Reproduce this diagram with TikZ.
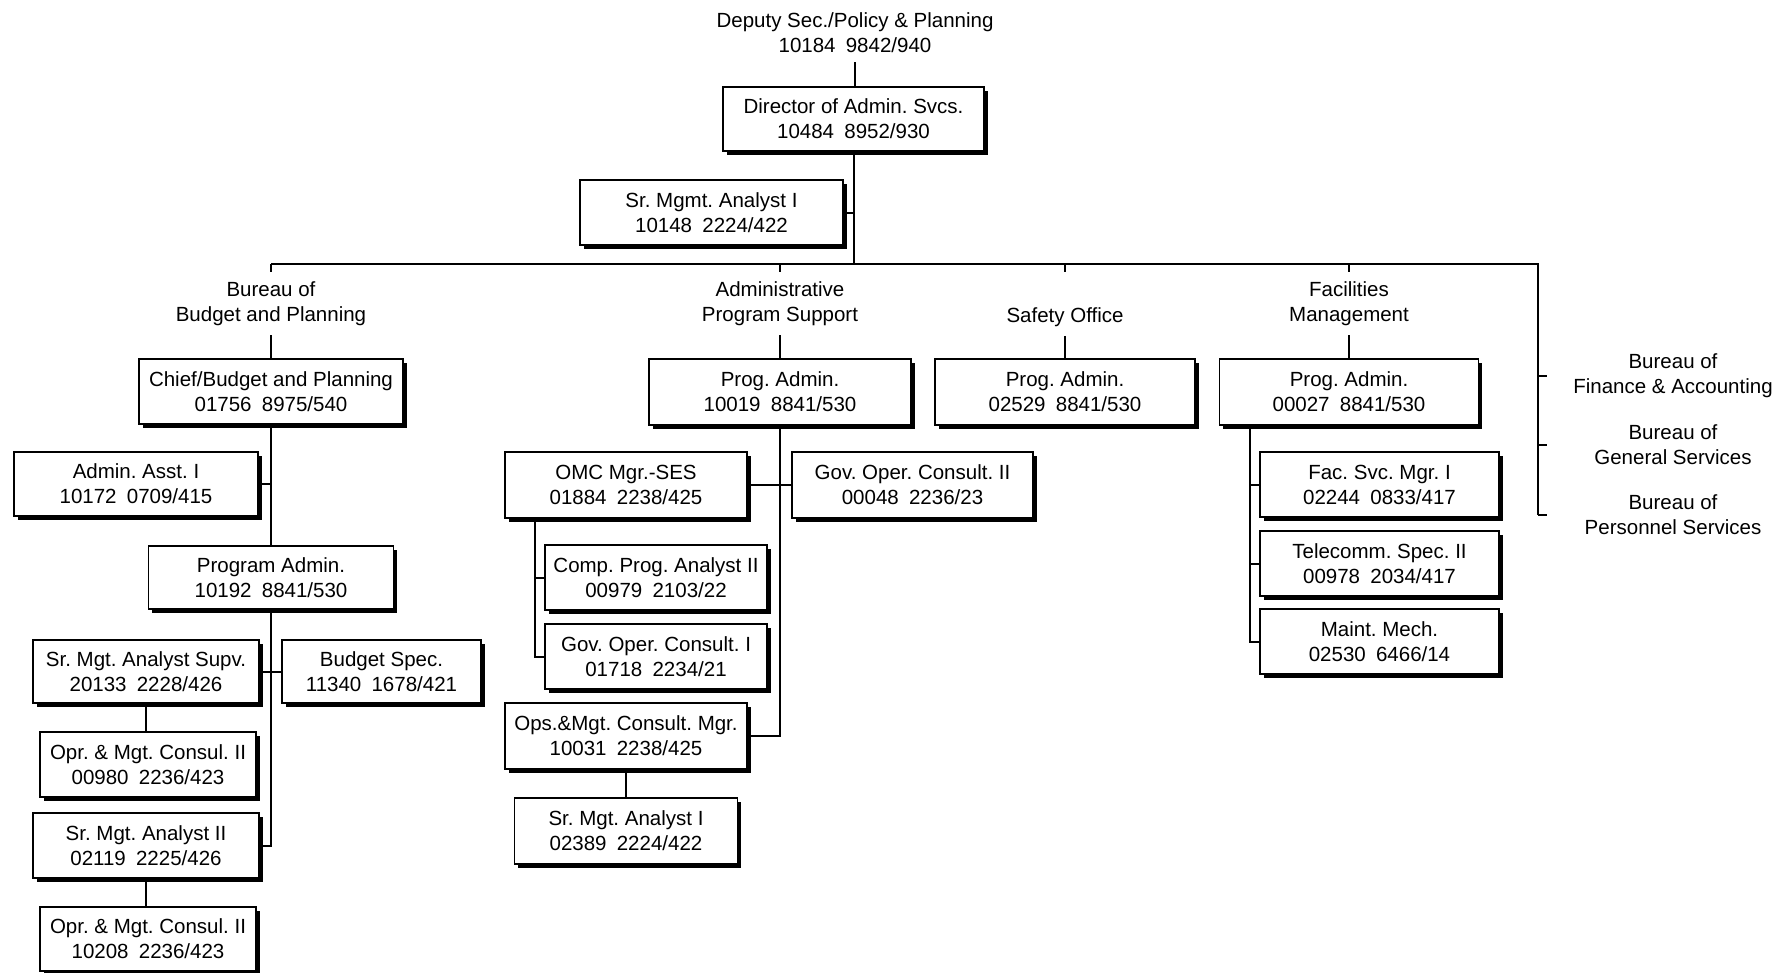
\documentclass[tikz,border=0pt]{standalone}
\usepackage{fontspec}
\setmainfont{Liberation Sans}
\usetikzlibrary{shadows}
\newcommand\numgap{\hspace{0.5em}}
\frenchspacing

\begin{document}
\begin{tikzpicture}[x=1pt,y=-1pt,
  every node/.style={font=\fontsize{20.5}{25}\selectfont, align=center},
  post/.style={draw, line width=1.8pt, fill=white, inner sep=0pt,
    drop shadow={shadow xshift=3.5pt, shadow yshift=-3.5pt, fill=black, opacity=1}},
  unit/.style={inner xsep=0pt, inner ysep=9pt},
  link/.style={line width=2pt},
]
\path[fill=white] (0,0) rectangle (1775,972);
\useasboundingbox (0,0) rectangle (1775,972);

% top of the chart
\node[unit] (deputy) at (855,33) {Deputy Sec./Policy \& Planning\\10184\numgap 9842/940};
\node[post, minimum width=261pt, minimum height=64pt] (dir) at (853.5,119) {Director of Admin. Svcs.\\10484\numgap 8952/930};
\node[post, minimum width=263pt, minimum height=65pt] (srmgmt) at (711.5,212.5) {Sr. Mgmt. Analyst I\\10148\numgap 2224/422};

% unit headings
\node[unit] (bpl) at (271,304) {Bureau of\\Budget and Planning};
\node[unit] (aps) at (780,304) {Administrative\\Program Support};
\node[unit] (safety) at (1065,317) {Safety Office};
\node[unit] (fm) at (1349,304) {Facilities\\Management};
\node (fin) at (1673,376) {Bureau of\\Finance \& Accounting};
\node (gen) at (1673,444.5) {Bureau of\\General Services};
\node (per) at (1673,514.5) {Bureau of\\Personnel Services};

% budget and planning
\node[post, minimum width=264pt, minimum height=65pt] (chief) at (271,391.5) {Chief/Budget and Planning\\01756\numgap 8975/540};
\node[post, minimum width=244pt, minimum height=64pt] (asst) at (136,484) {Admin. Asst. I\\10172\numgap 0709/415};
\node[post, minimum width=245pt, minimum height=63pt] (padmin) at (271,577.5) {Program Admin.\\10192\numgap 8841/530};
\node[post, minimum width=226pt, minimum height=63pt] (supv) at (146,671.5) {Sr. Mgt. Analyst Supv.\\20133\numgap 2228/426};
\node[post, minimum width=199pt, minimum height=63pt] (bspec) at (381.5,671.5) {Budget Spec.\\11340\numgap 1678/421};
\node[post, minimum width=216pt, minimum height=65pt] (oprA) at (148,764.5) {Opr. \& Mgt. Consul. II\\00980\numgap 2236/423};
\node[post, minimum width=226pt, minimum height=65pt] (srII) at (146,845.5) {Sr. Mgt. Analyst II\\02119\numgap 2225/426};
\node[post, minimum width=216pt, minimum height=64pt] (oprB) at (148,939) {Opr. \& Mgt. Consul. II\\10208\numgap 2236/423};

% administrative program support
\node[post, minimum width=262pt, minimum height=66pt] (pa1) at (780,392) {Prog. Admin.\\10019\numgap 8841/530};
\node[post, minimum width=242pt, minimum height=66pt] (omc) at (626,485) {OMC Mgr.-SES\\01884\numgap 2238/425};
\node[post, minimum width=241pt, minimum height=66pt] (gov2) at (912.5,485) {Gov. Oper. Consult. II\\00048\numgap 2236/23};
\node[post, minimum width=222pt, minimum height=65pt] (comp) at (656,577.5) {Comp. Prog. Analyst II\\00979\numgap 2103/22};
\node[post, minimum width=222pt, minimum height=65pt] (gov1) at (656,656.5) {Gov. Oper. Consult. I\\01718\numgap 2234/21};
\node[post, minimum width=242pt, minimum height=66pt] (ops) at (626,736) {Ops.\&Mgt. Consult. Mgr.\\10031\numgap 2238/425};
\node[post, minimum width=223pt, minimum height=66pt] (sr1) at (626,831) {Sr. Mgt. Analyst I\\02389\numgap 2224/422};

% safety office
\node[post, minimum width=260pt, minimum height=66pt] (pa2) at (1065,392) {Prog. Admin.\\02529\numgap 8841/530};

% facilities management
\node[post, minimum width=259pt, minimum height=66pt] (pa3) at (1349,392) {Prog. Admin.\\00027\numgap 8841/530};
\node[post, minimum width=239pt, minimum height=65pt] (fac) at (1379.5,484.5) {Fac. Svc. Mgr. I\\02244\numgap 0833/417};
\node[post, minimum width=239pt, minimum height=65pt] (tel) at (1379.5,563.5) {Telecomm. Spec. II\\00978\numgap 2034/417};
\node[post, minimum width=239pt, minimum height=65pt] (maint) at (1379.5,641.5) {Maint. Mech.\\02530\numgap 6466/14};

% branch points
\coordinate (barL) at (271,264);
\coordinate (barR) at (1538,264);
\coordinate (omcv) at (535,518);
\coordinate (fmv) at (1250,425);

% connectors
\draw[link] (deputy.south) -- (deputy.south |- dir.north);
\draw[link] (dir.south) -- (dir.south |- barL);
\draw[link] (srmgmt.east) -- (srmgmt.east -| dir.south);
\draw[link] (barL) -- (barR) -- (barR |- per);
\foreach \t in {fin,gen,per} \draw[link] (barR |- \t) -- ++(9,0);
\foreach \b in {bpl,aps,safety,fm} \draw[link] (\b |- barL) -- ++(0,8);
\foreach \b/\p in {bpl/chief,aps/pa1,safety/pa2,fm/pa3} \draw[link] (\b.south) -- (\b.south |- \p.north);

\draw[link] (chief.south) -- (chief.south |- padmin.north);
\draw[link] (asst.east) -- (asst.east -| chief.south);
\draw[link] (padmin.south) -- (padmin.south |- srII.east) -- (srII.east);
\draw[link] (supv.east) -- (bspec.west);
\draw[link] (supv.south) -- (supv.south |- oprA.north);
\draw[link] (srII.south) -- (srII.south |- oprB.north);

\draw[link] (pa1.south) -- (pa1.south |- ops.east) -- (ops.east);
\draw[link] (omc.east) -- (gov2.west);
\draw[link] (omcv) -- (omcv |- gov1.west) -- (gov1.west);
\draw[link] (omcv |- comp.west) -- (comp.west);
\draw[link] (ops.south) -- (ops.south |- sr1.north);

\draw[link] (fmv) -- (fmv |- maint.west) -- (maint.west);
\draw[link] (fmv |- fac.west) -- (fac.west);
\draw[link] (fmv |- tel.west) -- (tel.west);
\end{tikzpicture}
\end{document}
